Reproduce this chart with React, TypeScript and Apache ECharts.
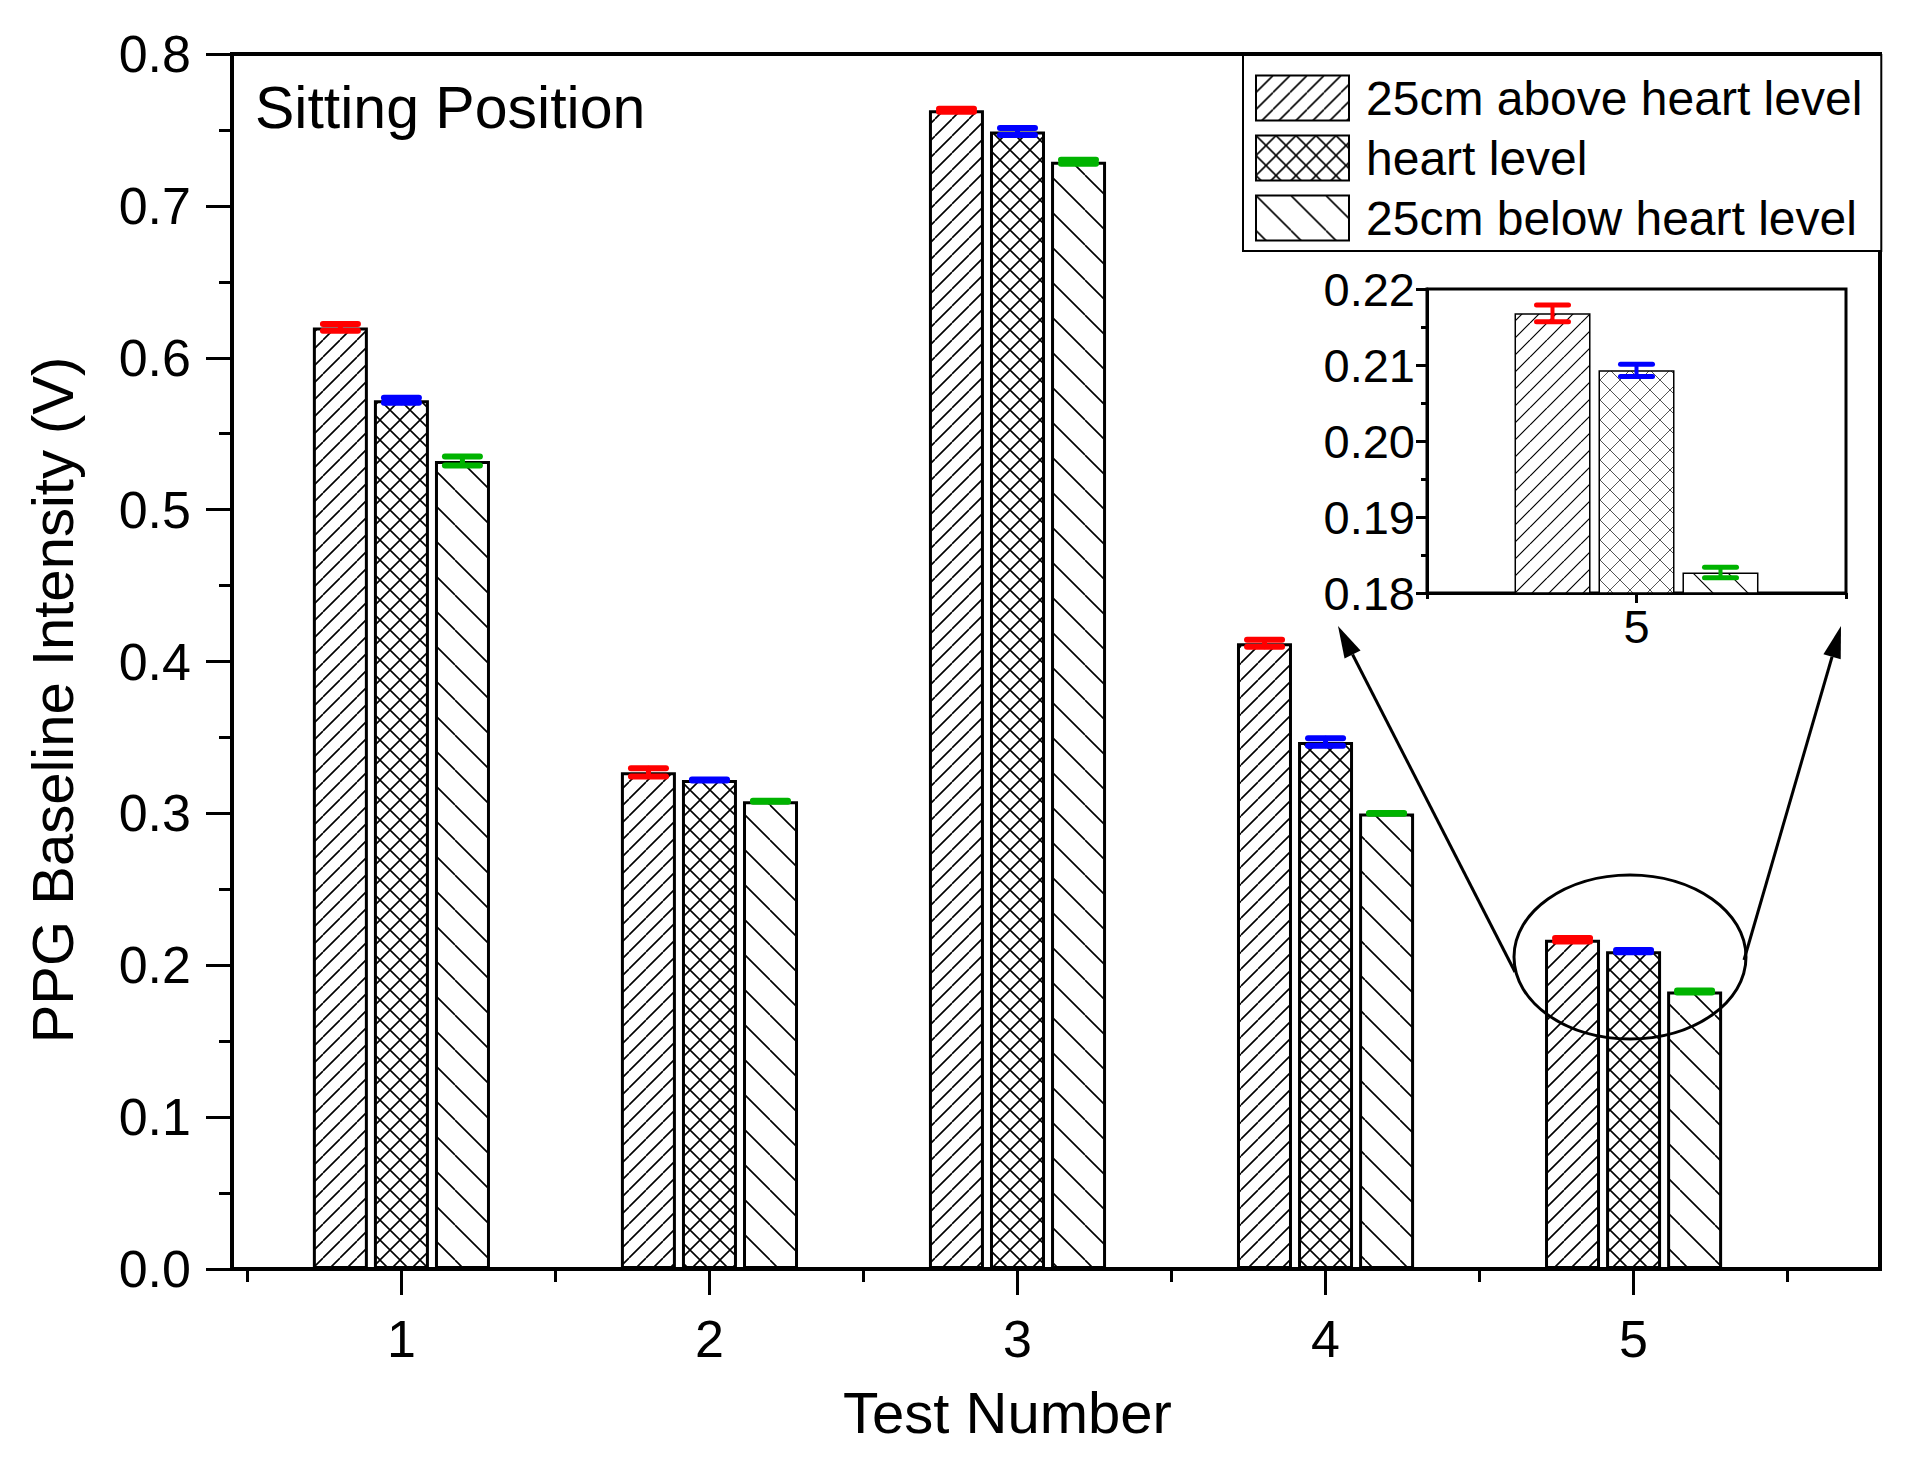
import React, { useEffect, useRef } from 'react'
import * as echarts from 'echarts'

// ---- data ----
const testNumbers = [1, 2, 3, 4, 5]
const seriesNames = ['25cm above heart level', 'heart level', '25cm below heart level']

// bar heights (V)
const aboveHeart = [0.620, 0.327, 0.763, 0.412, 0.2168]
const atHeart = [0.572, 0.322, 0.749, 0.347, 0.2093]
const belowHeart = [0.532, 0.308, 0.729, 0.300, 0.1827]

// error bar half-widths (V)
const aboveErr = [0.0023, 0.0027, 0.001, 0.0023, 0.0011]
const atErr = [0.0017, 0.0003, 0.0023, 0.0024, 0.0008]
const belowErr = [0.003, 0.0003, 0.0013, 0.0003, 0.0007]

// tick positions on the test-number axis
const majorXTicks = [1, 2, 3, 4, 5]
const minorXTicks = [0.5, 1.5, 2.5, 3.5, 4.5, 5.5]

// zoomed inset shows test 5 only
const insetTest = 5
const insetMinorTicks = [4.5, 5.5]

const FONT = '"Liberation Sans", Arial, Helvetica, sans-serif'
const errColors = ['#ff0000', '#0000ff', '#00b300']

// hatch fill as a repeating canvas tile
function makeHatch(kind: 'slash' | 'back' | 'cross', size: number, lineWidth: number, color: string) {
  const c = document.createElement('canvas')
  c.width = size
  c.height = size
  const ctx = c.getContext('2d')!
  ctx.fillStyle = '#fff'
  ctx.fillRect(0, 0, size, size)
  ctx.strokeStyle = color
  ctx.lineWidth = lineWidth
  ctx.beginPath()
  for (const k of [-size, 0, size]) {
    if (kind !== 'back') {
      ctx.moveTo(k, size)
      ctx.lineTo(k + size, 0)
    }
    if (kind !== 'slash') {
      ctx.moveTo(k, 0)
      ctx.lineTo(k + size, size)
    }
  }
  ctx.stroke()
  return { image: c, repeat: 'repeat', imageWidth: size, imageHeight: size }
}

// error bar drawn on top of a bar, shifted by the bar's group offset (px)
function errorSeries(
  xs: number[], values: number[], errs: number[], offset: number,
  capW: number, lineW: number, color: string, xAxisIndex: number, yAxisIndex: number
) {
  return {
    type: 'custom',
    xAxisIndex,
    yAxisIndex,
    z: 5,
    silent: true,
    clip: false,
    data: xs.map((x, i) => [x, values[i], errs[i]]),
    renderItem: (_params: any, api: any) => {
      const x = api.value(0)
      const v = api.value(1)
      const e = api.value(2)
      const top = api.coord([x, v + e])
      const bot = api.coord([x, v - e])
      const cx = top[0] + offset
      const half = capW / 2
      const style = { stroke: color, lineWidth: lineW, lineCap: 'round' }
      return {
        type: 'group',
        children: [
          { type: 'line', shape: { x1: cx - half, y1: top[1], x2: cx + half, y2: top[1] }, style },
          { type: 'line', shape: { x1: cx - half, y1: bot[1], x2: cx + half, y2: bot[1] }, style },
          { type: 'line', shape: { x1: cx, y1: top[1], x2: cx, y2: bot[1] }, style: { ...style, lineWidth: lineW - 1 } },
        ],
      }
    },
  }
}

// arrow (line + filled head) for the zoom annotation
function arrow(sx: number, sy: number, tx: number, ty: number) {
  const len = Math.hypot(tx - sx, ty - sy)
  const dx = (tx - sx) / len
  const dy = (ty - sy) / len
  const headL = 32
  const headW = 9
  const bx = tx - dx * headL
  const by = ty - dy * headL
  return [
    { type: 'line', z: 100, shape: { x1: sx, y1: sy, x2: bx, y2: by }, style: { stroke: '#000', lineWidth: 3 } },
    {
      type: 'polygon', z: 100,
      shape: { points: [[tx, ty], [bx - dy * headW, by + dx * headW], [bx + dy * headW, by - dx * headW]] },
      style: { fill: '#000' },
    },
  ]
}

export default function App() {
  const chartRef = useRef<HTMLDivElement>(null)

  useEffect(() => {
    if (!chartRef.current) return
    document.body.style.margin = '0'
    const chart = echarts.init(chartRef.current, null, { renderer: 'svg' })

    const mainFills = [makeHatch('slash', 17, 1.6, '#000'), makeHatch('cross', 20, 1.6, '#000'), makeHatch('back', 35, 1.6, '#000')]
    const insetFills = [makeHatch('slash', 17, 1.2, '#000'), makeHatch('cross', 20, 1, '#555'), makeHatch('back', 35, 1.2, '#000')]
    const values = [aboveHeart, atHeart, belowHeart]
    const errs = [aboveErr, atErr, belowErr]

    const tickLabel = { color: '#000', fontFamily: FONT }

    const option: any = {
      animation: false,
      backgroundColor: '#fff',
      grid: [
        { left: 232, top: 54, right: 28, bottom: 192, show: true, borderColor: '#000', borderWidth: 4, outerBoundsMode: 'none' },
        { left: 1427, top: 289, width: 419, height: 304, show: true, borderColor: '#000', borderWidth: 3, outerBoundsMode: 'none' },
      ],
      legend: {
        data: seriesNames,
        orient: 'vertical',
        left: 1243,
        top: 55,
        icon: 'rect',
        itemWidth: 93,
        itemHeight: 45,
        itemGap: 12,
        padding: [19, 19, 9, 12],
        borderColor: '#000',
        borderWidth: 2,
        backgroundColor: '#fff',
        selectedMode: false,
        textStyle: { fontSize: 48, lineHeight: 48, color: '#000', fontFamily: FONT, padding: [0, 0, 0, 12] },
      },
      xAxis: [
        {
          gridIndex: 0, type: 'value', min: 0.45, max: 5.8, position: 'bottom',
          axisLine: { show: true, lineStyle: { color: '#000', width: 4 } },
          axisTick: { show: true, customValues: majorXTicks, length: 26, lineStyle: { color: '#000', width: 3 } },
          axisLabel: { show: true, customValues: majorXTicks, fontSize: 52, margin: 44, formatter: (v: number) => String(v), ...tickLabel },
          splitLine: { show: false },
          name: 'Test Number',
          nameLocation: 'middle',
          nameGap: 114,
          nameTextStyle: { fontSize: 58, color: '#000', fontFamily: FONT, padding: [0, 97, 0, 0] },
        },
        {
          gridIndex: 0, type: 'value', min: 0.45, max: 5.8, position: 'bottom', offset: 0,
          axisLine: { show: false },
          axisTick: { show: true, customValues: minorXTicks, length: 13, lineStyle: { color: '#000', width: 3 } },
          axisLabel: { show: false },
          splitLine: { show: false },
        },
        {
          gridIndex: 1, type: 'value', min: 4.5, max: 5.5, position: 'bottom',
          axisLine: { show: true, lineStyle: { color: '#000', width: 3 } },
          axisTick: { show: true, customValues: [insetTest], length: 10, lineStyle: { color: '#000', width: 3 } },
          axisLabel: { show: true, customValues: [insetTest], fontSize: 47, margin: 10, formatter: (v: number) => String(v), ...tickLabel },
          splitLine: { show: false },
        },
        {
          gridIndex: 1, type: 'value', min: 4.5, max: 5.5, position: 'bottom', offset: 0,
          axisLine: { show: false },
          axisTick: { show: true, customValues: insetMinorTicks, length: 6, lineStyle: { color: '#000', width: 3 } },
          axisLabel: { show: false },
          splitLine: { show: false },
        },
      ],
      yAxis: [
        {
          gridIndex: 0, type: 'value', min: 0, max: 0.8, interval: 0.1,
          axisLine: { show: true, lineStyle: { color: '#000', width: 4 } },
          axisTick: { show: true, length: 26, lineStyle: { color: '#000', width: 3 } },
          minorTick: { show: true, splitNumber: 2, length: 13, lineStyle: { color: '#000', width: 3 } },
          axisLabel: { fontSize: 52, margin: 41, formatter: (v: number) => v.toFixed(1), ...tickLabel },
          splitLine: { show: false },
          name: 'PPG Baseline Intensity (V)',
          nameLocation: 'middle',
          nameGap: 151,
          nameTextStyle: { fontSize: 58, color: '#000', fontFamily: FONT, padding: [0, 77, 0, 0] },
        },
        {
          gridIndex: 1, type: 'value', min: 0.18, max: 0.22, interval: 0.01,
          axisLine: { show: true, lineStyle: { color: '#000', width: 3 } },
          axisTick: { show: true, length: 11, lineStyle: { color: '#000', width: 3 } },
          minorTick: { show: true, splitNumber: 2, length: 6, lineStyle: { color: '#000', width: 3 } },
          axisLabel: { fontSize: 47, margin: 12, formatter: (v: number) => v.toFixed(2), ...tickLabel },
          splitLine: { show: false },
        },
      ],
      series: [
        // main bars
        ...seriesNames.map((name, k) => ({
          type: 'bar',
          name,
          xAxisIndex: 0,
          yAxisIndex: 0,
          barWidth: 55,
          barGap: '11%',
          z: 2,
          itemStyle: { color: mainFills[k], borderColor: '#000', borderWidth: 3 },
          data: testNumbers.map((x, i) => [x, values[k][i]]),
        })),
        // main error bars
        ...seriesNames.map((_n, k) =>
          errorSeries(testNumbers, values[k], errs[k], (k - 1) * 61, 35, 6, errColors[k], 0, 0)
        ),
        // inset bars (test 5 only)
        ...seriesNames.map((name, k) => ({
          type: 'bar',
          name,
          xAxisIndex: 2,
          yAxisIndex: 1,
          barWidth: 76,
          barGap: '10.5%',
          clip: true,
          z: 2,
          itemStyle: { color: insetFills[k], borderColor: '#000', borderWidth: 1.5 },
          data: [[insetTest, values[k][4]]],
        })),
        // inset error bars
        ...seriesNames.map((_n, k) =>
          errorSeries([insetTest], [values[k][4]], [errs[k][4]], (k - 1) * 84, 32, 5, errColors[k], 2, 1)
        ),
      ],
      graphic: [
        {
          type: 'text', left: 255, top: 78, z: 100,
          style: { text: 'Sitting Position', fontSize: 59, fontFamily: FONT, fill: '#000' },
        },
        {
          type: 'ellipse', z: 100, silent: true,
          shape: { cx: 1630, cy: 957, rx: 116, ry: 82 },
          style: { fill: 'none', stroke: '#000', lineWidth: 3 },
        },
        ...arrow(1515, 972, 1338, 626),
        ...arrow(1744, 960, 1841, 626),
      ],
    }

    chart.setOption(option)

    return () => {
      chart.dispose()
    }
  }, [])

  return <div ref={chartRef} style={{ width: '1908px', height: '1461px' }} />
}
